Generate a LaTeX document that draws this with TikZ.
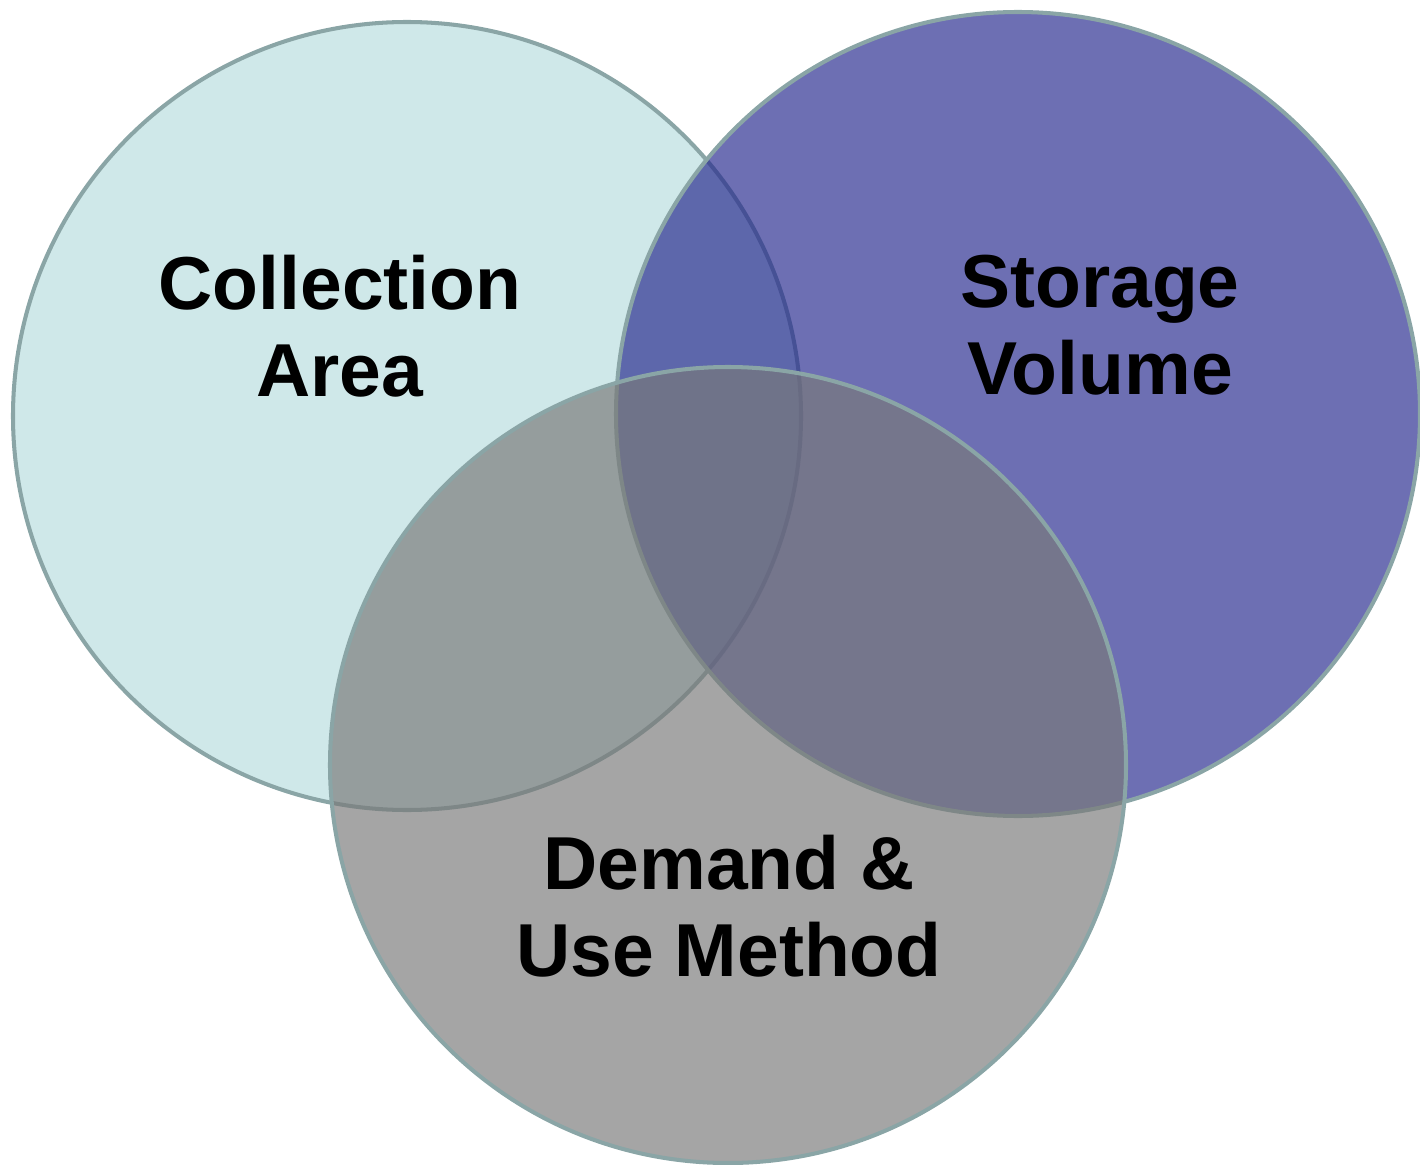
\documentclass[tikz,border=0pt]{standalone}
\usepackage{fontspec}
\setmainfont{Liberation Sans}
\usepackage{tikz}

\definecolor{rimteal}{RGB}{138,165,166}
\definecolor{areacyan}{RGB}{207,232,233}
\definecolor{storeblue}{RGB}{38,40,142}
\definecolor{usegray}{RGB}{121,121,121}

\begin{document}
\begin{tikzpicture} [
  set/.style={circle,draw=rimteal,line width=2.3pt,inner sep=0pt},
  setname/.style={align=center,inner sep=0pt,
    font=\fontsize{42.7}{49.5}\selectfont\bfseries}]

\useasboundingbox (0,0) rectangle (28.4,-23.3);

% the three sets
\node[set,fill=areacyan,minimum size=15.76cm] (area) at (8.14,-8.32) {};
\node[set,fill=storeblue,fill opacity=0.67,minimum size=16.08cm] (volume) at (20.36,-8.28) {};
\node[set,fill=usegray,fill opacity=0.67,minimum size=15.92cm] (demand) at (14.56,-15.30) {};

% names
\node[setname] (areaname) at (6.80,-6.52) {Collection\\Area};
\node[setname] (volumename) at (22.00,-6.50) {Storage\\Volume};
\node[setname] (demandname) at (14.58,-18.13) {Demand \&\\Use Method};
\end{tikzpicture}
\end{document}
